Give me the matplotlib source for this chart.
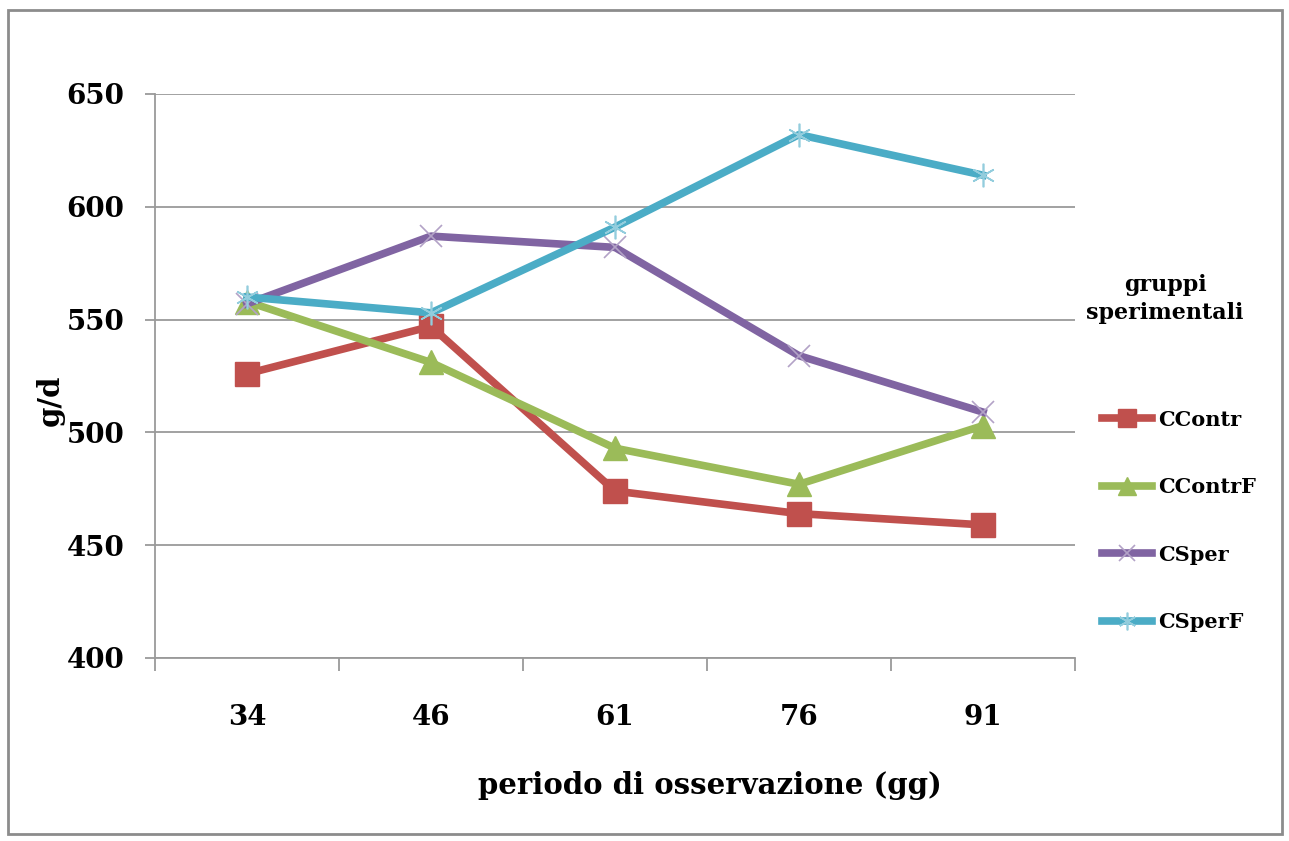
import matplotlib
matplotlib.use("Agg")
import matplotlib.pyplot as plt
from matplotlib.patches import Rectangle

# Observation periods (days) and daily gain per experimental group (g/d)
periods = ["34", "46", "61", "76", "91"]
ccontr = [526, 547, 474, 464, 459]
ccontrf = [558, 531, 493, 477, 503]
csper = [557, 587, 582, 534, 509]
csperf = [560, 553, 591, 632, 614]

series_names = ["CContr", "CContrF", "CSper", "CSperF"]

FONT = "DejaVu Serif"
W, H = 1289, 841

fig = plt.figure(figsize=(W / 100, H / 100), dpi=100)
fig.patch.set_facecolor("white")

# outer chart-area frame
fig.add_artist(Rectangle((8 / W, 1 - 834 / H), (1282 - 8) / W, (834 - 10) / H,
                         transform=fig.transFigure, fill=False,
                         edgecolor="#8c8c8c", linewidth=2))

ax = fig.add_axes([155 / W, 1 - 658 / H, (1075 - 155) / W, (658 - 94) / H])

x = list(range(len(periods)))
styles = [
    dict(color="#C0504D", marker="s", markersize=17, markerfacecolor="#C0504D",
         markeredgecolor="#C0504D"),
    dict(color="#9BBB59", marker="^", markersize=17, markerfacecolor="#9BBB59",
         markeredgecolor="#9BBB59"),
    dict(color="#8064A2", marker="x", markersize=16, markeredgecolor="#B3A2C7",
         markeredgewidth=1.2),
    dict(color="#4BACC6", marker=(6, 2, 0), markersize=17, markeredgecolor="#93CDDD",
         markeredgewidth=1.2),
]
data = [ccontr, ccontrf, csper, csperf]

handles = []
for vals, st, name in zip(data, styles, series_names):
    ln, = ax.plot(x, vals, linewidth=5.5, solid_joinstyle="round", label=name,
                  zorder=3, **st)
    handles.append(ln)

ax.set_xlim(-0.5, len(periods) - 0.5)
ax.set_ylim(400, 650)
ax.set_yticks(range(400, 651, 50))
ax.yaxis.grid(True, color="#9a9a9a", linewidth=1.3)
ax.set_axisbelow(True)

ax.set_xticks(x)
ax.set_xticklabels(periods)
ax.set_xticks([i + 0.5 for i in range(-1, len(periods))], minor=True)
ax.tick_params(axis="x", which="major", length=0, pad=33)
ax.tick_params(axis="x", which="minor", length=9, color="#9a9a9a", width=1.3)
ax.tick_params(axis="y", length=7, color="#9a9a9a", width=1.3, pad=15)

for lab in ax.get_xticklabels() + ax.get_yticklabels():
    lab.set_fontfamily(FONT)
    lab.set_fontweight("bold")
    lab.set_fontsize(20)

for s in ["top", "right"]:
    ax.spines[s].set_visible(False)
for s in ["left", "bottom"]:
    ax.spines[s].set_color("#9a9a9a")
    ax.spines[s].set_linewidth(1.3)

fig.text(710 / W, 1 - 785 / H, "periodo di osservazione (gg)", ha="center", va="center",
         fontsize=21, fontweight="bold", family=FONT)
fig.text(50 / W, 1 - 400 / H, "g/d", ha="center", va="center", rotation=90,
         fontsize=21, fontweight="bold", family=FONT)

fig.text(1165 / W, 1 - 299 / H, "gruppi\nsperimentali", ha="center", va="center",
         fontsize=16, fontweight="bold", family=FONT, linespacing=1.3)

leg = fig.legend(handles=handles, loc="upper left",
                 bbox_to_anchor=(1083 / W, 1 - 391 / H),
                 frameon=False, prop={"family": FONT, "weight": "bold", "size": 15},
                 labelspacing=2.28, handlelength=2.4, handletextpad=0.3,
                 markerscale=0.75)

fig.savefig("out.png", dpi=100, facecolor="white")
